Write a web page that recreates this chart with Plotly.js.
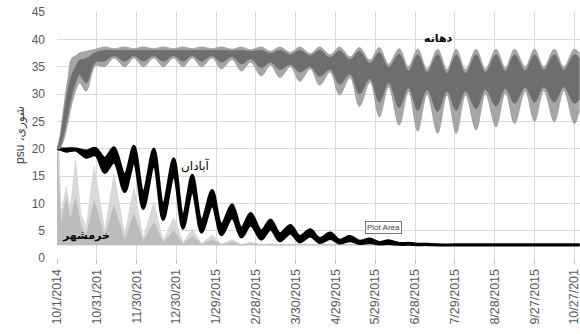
<!DOCTYPE html>
<html>
<head>
<meta charset="utf-8">
<script src="https://cdn.plot.ly/plotly-3.0.1.min.js"></script>
<style>html,body{margin:0;padding:0;background:#fff;}#chart{width:580px;height:334px;}</style>
</head>
<body>
<div id="chart"></div>
<script>
// ---- data (days since 10/1/2014; salinity psu) ----
var tickDays = [0,30,60,90,120,150,180,210,240,270,300,330,360,390];
var tickLabels = ["10/1/2014","10/31/201","11/30/201","12/30/201","1/29/2015","2/28/2015","3/30/2015","4/29/2015","5/29/2015","6/28/2015","7/29/2015","8/28/2015","9/27/2015","10/27/201"];

// دهانه (mouth): outer (spike) envelope and inner (dense) envelope
var dhDays = [0,2,5,8,11,14,17,22,29,36,43,51,58,65,73,80,88,95,102,109,117,124,132,139,146,154,161,168,176,183,191,198,206,213,221,228,236,243,250,258,265,272,279,287,294,301,308,316,323,331,338,345,353,360,367,375,382,390,394];
var dhOuterHi = [20,22,27.5,32.5,36.5,37,37.5,37.8,38.2,38.6,38.3,38.6,38.3,38.6,38.3,38.6,38.3,38.6,38.3,38.6,38.3,38.6,38.2,38.6,38.1,38.6,37.8,38.6,37.6,38.6,37.4,38.6,37.2,38.6,36.8,38.5,36.2,38.5,35.5,38.3,35,38.2,34.6,38.2,34.5,38.2,34.5,38.2,34.6,38.2,34.8,38.2,35,38.2,35,38.2,35,38.2,37.5];
var dhInnerHi = [20,21.5,26,30.5,33.5,35,36.2,36.5,37.6,38,38,38,38,38,38,38,38,38,38,38,38,38,37.9,38,37.8,38,37.4,38,37.2,38,37,38,36.7,37.9,36.3,37.8,35.6,37.6,34.9,37.3,34.3,37.2,34,37.2,33.8,37.2,33.8,37.2,34,37.2,34.2,37.2,34.3,37.2,34.4,37.2,34.4,37.2,36.5];
var dhInnerLo = [20,20.3,22.5,26,29.5,32,33.5,32,35.8,36,37,36,37,36,37,36,37,36,37,36,37,35.8,36.8,35.5,36.4,34.8,35.8,34.5,35.4,34,35,33.2,34.5,31.8,33.6,30,32.8,28.5,32,27.5,31.2,27,30.8,26.8,30.5,27,30.5,27.3,30.8,27.8,31,28.3,31.2,28.5,31.3,28.5,31.3,28.3,29];
var dhOuterLo = [20,20,21.5,24.5,28,30.5,32,30.5,35.2,35,36.6,35,36.6,35,36.6,35,36.6,35,36.6,35,36.6,34.6,36.3,34.2,35.8,33.3,35.3,33,35,32.3,34.6,31.6,34,29.8,33,27.7,32.2,25.8,31.3,24.3,30.5,23.2,30,22.8,29.8,22.8,29.8,23.4,30,24,30.2,24.6,30.5,25,30.6,24.9,30.6,24.6,27];

// آبادان (Abadan): band envelope
var abDays = [0,3,7,14,22,29,36,43,51,58,65,73,80,88,95,102,109,117,124,132,139,146,154,161,168,176,183,191,198,206,213,221,228,236,243,250,258,265,272,279,287,300,394];
var abHi = [20,20,20,20,19.6,20.1,18.3,20.2,15.3,20.5,12.2,20,10,18.2,8,15.2,7,12.4,6.2,9.8,5.5,8.2,5,7,4.5,6,4,5.2,3.6,4.6,3.3,4,3.1,3.5,2.9,3.2,2.7,2.75,2.55,2.55,2.45,2.45,2.45];
var abLo = [20,19.8,19.5,19.7,18.4,18.8,15.6,17.5,12.1,17.3,9,16.8,7,14.8,5.4,12,4.7,9.5,4.2,7.3,3.8,6,3.4,5.2,3.1,4.5,2.9,4,2.8,3.5,2.7,3.1,2.6,2.8,2.5,2.6,2.45,2.45,2.4,2.4,2.35,2.35,2.35];

// خرمشهر (Khorramshahr): spike envelope, dense body, base level
var khDays = [0,1.5,3,7,10,14,18,22,28,36,43,51,58,65,73,80,88,95,102,109,117,124,132,139,146,154,161,168,176,394];
var khSpike = [20,20,8,13,9,17.9,8,5.5,16.8,5,15.3,4.2,12.8,3.6,10.1,3.1,7.4,2.8,5.3,2.6,4.2,2.5,3.4,2.45,2.9,2.4,2.6,2.4,2.5,2.4];
var khBody = [20,12,6,11,7,11,6,4,10.5,3.8,9.5,3.3,8,3,6.5,2.8,5,2.6,4,2.5,3.3,2.45,2.9,2.4,2.6,2.4,2.45,2.4,2.4,2.4];
var khBase = [2.4,2.4,2.4,2.4,2.4,2.4,2.4,2.4,2.4,2.4,2.4,2.4,2.4,2.4,2.4,2.4,2.4,2.4,2.4,2.4,2.4,2.4,2.4,2.4,2.4,2.4,2.4,2.4,2.4,2.4];

var seriesNames = ["دهانه","آبادان","خرمشهر"];

// ---- traces ----
function band(x, lo, hi, color, lineColor, lineWidth, shape, name) {
  var ln = {color:lineColor, width:lineWidth, shape:shape, smoothing:1};
  var l = {x:x, y:lo, mode:'lines', line:ln, hoverinfo:'skip', showlegend:false, name:name};
  var h = {x:x, y:hi, mode:'lines', fill:'tonexty', fillcolor:color, line:ln, hoverinfo:'skip', showlegend:false, name:name};
  return [l, h];
}
var traces = [];
traces = traces.concat(band(khDays, khBase, khSpike, '#d9d9d9', '#cccccc', 0.6, 'linear', seriesNames[2]));
traces = traces.concat(band(khDays, khBase, khBody, '#bcbcbc', '#bcbcbc', 0.6, 'linear', seriesNames[2]));
traces = traces.concat(band(abDays, abLo, abHi, '#000000', '#000000', 2.5, 'spline', seriesNames[1]));
traces = traces.concat(band(dhDays, dhOuterLo, dhOuterHi, '#a6a6a6', '#8c8c8c', 0.6, 'spline', seriesNames[0]));
traces = traces.concat(band(dhDays, dhInnerLo, dhInnerHi, '#6e6e6e', '#6e6e6e', 0.6, 'spline', seriesNames[0]));

var arabicFont = 'DejaVu Sans, Noto Sans, sans-serif';
var layout = {
  width:580, height:334,
  margin:{l:57, r:0, t:12, b:76},
  paper_bgcolor:'#ffffff', plot_bgcolor:'#ffffff',
  showlegend:false, hovermode:false,
  font:{family:'Liberation Sans, Arial, sans-serif', color:'#595959', size:12},
  xaxis:{
    range:[0,394.3], tickvals:tickDays, ticktext:tickLabels, tickangle:-90,
    showgrid:true, gridcolor:'#d9d9d9', gridwidth:1, zeroline:false,
    ticks:'outside', ticklen:5, tickcolor:'#bfbfbf', showline:false,
    ticklabeloverflow:'allow', automargin:false,
    tickfont:{size:12.5, color:'#595959'}, fixedrange:true
  },
  yaxis:{
    range:[0,45], dtick:5, tick0:0,
    showgrid:true, gridcolor:'#d9d9d9', gridwidth:1, zeroline:false,
    ticks:'', ticklabelstandoff:11, showline:false, automargin:true,
    tickfont:{size:12, color:'#595959'},
    title:{text:'psu ،شوری', font:{family:'Liberation Sans, DejaVu Sans, sans-serif', size:12, color:'#404040'}, standoff:4},
    fixedrange:true
  },
  annotations:[
    {x:287.6, y:40.15, xref:'x', yref:'y', text:'<b>'+seriesNames[0]+'</b>', showarrow:false, font:{family:arabicFont, size:11, color:'#000'}},
    {x:104, y:17.0, xref:'x', yref:'y', text:seriesNames[1], showarrow:false, font:{family:arabicFont, size:12, color:'#000'}},
    {x:21.5, y:4.2, xref:'x', yref:'y', text:'<b>'+seriesNames[2]+'</b>', showarrow:false, font:{family:arabicFont, size:11, color:'#000'}},
    {x:246.5, y:5.67, xref:'x', yref:'y', text:'Plot Area', showarrow:false, font:{family:'Liberation Sans, Arial, sans-serif', size:8, color:'#404040'}, bgcolor:'#ffffff', bordercolor:'#767676', borderwidth:1, borderpad:1}
  ]
};
Plotly.newPlot('chart', traces, layout, {staticPlot:true, displayModeBar:false});
</script>
</body>
</html>
